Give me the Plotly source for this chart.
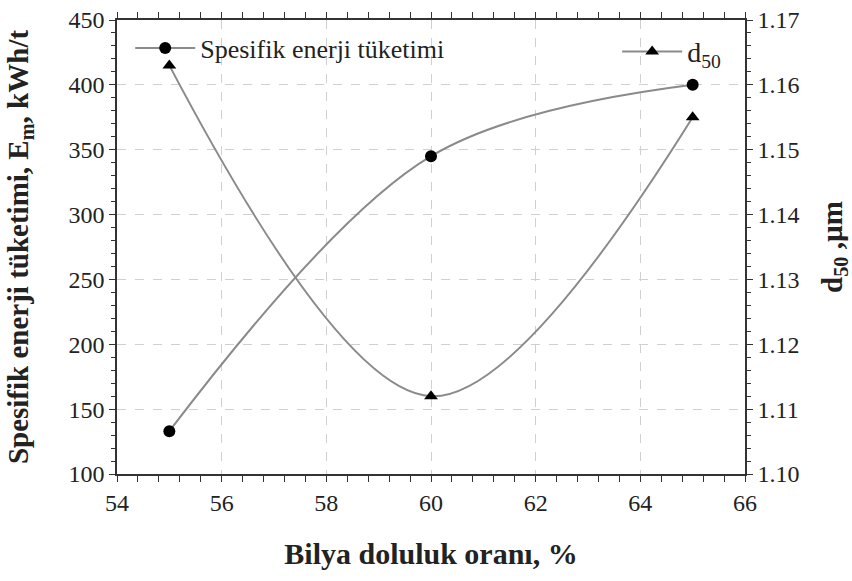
import plotly.graph_objects as go

# Ball filling ratio (%)
filling = [55, 60, 65]
# Specific energy consumption, kWh/t
energy = [133, 345, 400]
# d50 particle size, µm
d50 = [1.163, 1.112, 1.155]

x_ticks = [54, 56, 58, 60, 62, 64, 66]
y_ticks = [100, 150, 200, 250, 300, 350, 400, 450]
y2_ticks = [1.10, 1.11, 1.12, 1.13, 1.14, 1.15, 1.16, 1.17]

FONT = "Liberation Serif, Times New Roman, serif"
LINE = "#8a8a8a"
GRID = "#d0d0d0"
INK = "#222222"

fig = go.Figure()

fig.add_trace(go.Scatter(
    x=filling, y=energy, name="Spesifik enerji tüketimi",
    mode="lines+markers",
    line=dict(color=LINE, width=2, shape="spline", smoothing=1.0),
    marker=dict(symbol="circle", size=12, color="black"),
    legend="legend", showlegend=True,
))

fig.add_trace(go.Scatter(
    x=filling, y=d50, name="d<sub>50</sub>",
    mode="lines+markers",
    line=dict(color=LINE, width=2, shape="spline", smoothing=1.0),
    marker=dict(symbol="triangle-up", size=12, color="black"),
    yaxis="y2",
    legend="legend2", showlegend=True,
))

axis_common = dict(
    showline=True, linecolor="#333333", linewidth=1.5,
    ticks="outside", ticklen=6, tickcolor="#333333",
    tickfont=dict(family=FONT, size=24, color=INK),
    zeroline=False, automargin=False,
)

fig.update_layout(
    width=852, height=581,
    margin=dict(l=117, r=107, t=20, b=107),
    paper_bgcolor="white", plot_bgcolor="white",
    font=dict(family=FONT, color=INK),
    showlegend=True,
    xaxis=dict(
        range=[54, 66], tickvals=x_ticks, mirror="allticks",
        showgrid=True, gridcolor=GRID, griddash="dash", gridwidth=1.3,
        minor=dict(dtick=0.4, ticks="outside", ticklen=4, tickcolor="#333333", showgrid=False),
        title=dict(text="<b>Bilya doluluk oranı, %</b>",
                   font=dict(family=FONT, size=30, color=INK), standoff=28),
        **axis_common,
    ),
    yaxis=dict(
        range=[100, 450], tickvals=y_ticks,
        showgrid=True, gridcolor=GRID, griddash="dash", gridwidth=1.3,
        minor=dict(dtick=10, ticks="outside", ticklen=4, tickcolor="#333333", showgrid=False),
        title=dict(text="<b>Spesifik enerji tüketimi, E<sub>m</sub>, kWh/t</b>",
                   font=dict(family=FONT, size=29, color=INK), standoff=31),
        **axis_common,
    ),
    yaxis2=dict(
        range=[1.10, 1.17], tickvals=y2_ticks, tickformat=".2f",
        overlaying="y", side="right", showgrid=False,
        minor=dict(dtick=0.002, ticks="outside", ticklen=4, tickcolor="#333333", showgrid=False),
        title=dict(text="<b>d<sub>50</sub> ,µm</b>",
                   font=dict(family=FONT, size=29, color=INK), standoff=24),
        **axis_common,
    ),
    legend=dict(
        x=0.021, y=0.99, xanchor="left", yanchor="top",
        bgcolor="rgba(0,0,0,0)", font=dict(family=FONT, size=26, color=INK),
        itemwidth=60,
    ),
    legend2=dict(
        x=0.97, y=0.985, xanchor="right", yanchor="top",
        bgcolor="rgba(0,0,0,0)", font=dict(family=FONT, size=28, color=INK),
        itemwidth=60,
    ),
)

fig.write_html("out.html")
